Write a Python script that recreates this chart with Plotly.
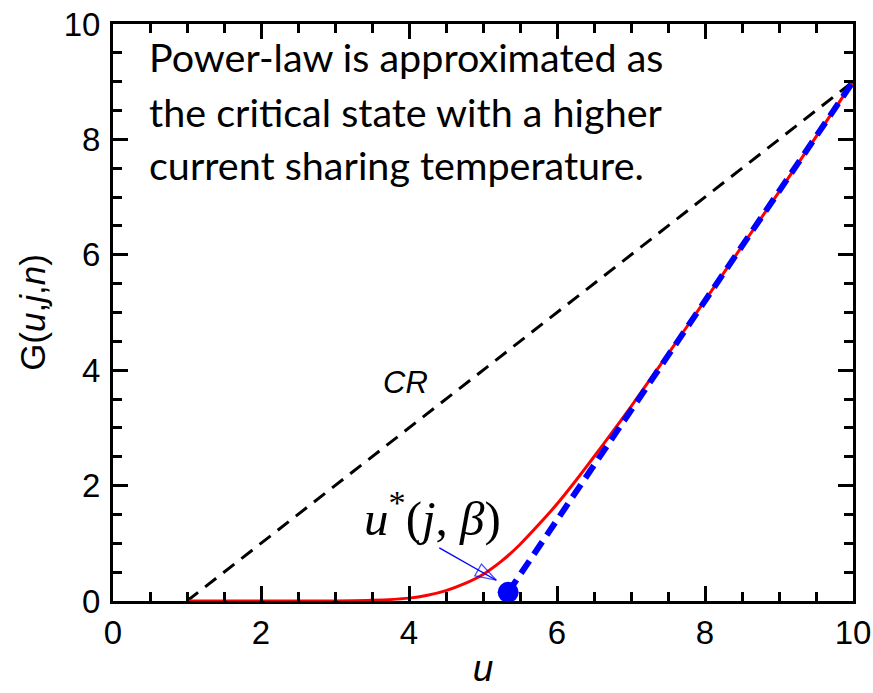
import plotly.graph_objects as go

# Critical-state (CR) reference line
cr_u = [1.0, 10.0]
cr_g = [0.0, 9.0]

# Power-law G(u, j, n)
pl_u = [1.0, 2.0, 3.0, 3.5, 4.0, 4.25, 4.5, 4.75, 5.0, 5.25, 5.5, 5.75,
        6.0, 6.25, 6.5, 6.75, 7.0, 7.5, 8.0, 9.0, 10.0]
pl_g = [0.0, 0.0, 0.002, 0.012, 0.05, 0.10, 0.18, 0.30, 0.46, 0.69, 0.98, 1.32,
        1.68, 2.08, 2.50, 2.93, 3.37, 4.28, 5.21, 7.09, 9.0]

# Equivalent critical state with shifted onset u*(j, beta)
eq_u = [5.34, 10.0]
eq_g = [0.15, 9.0]

# u* marker
ustar_u = [5.34]
ustar_g = [0.15]

# Pointer from the u* label to the onset
ptr_u = [4.41, 5.18]
ptr_g = [0.92, 0.36]

note_lines = ["Power-law is approximated as",
              "the critical state with a higher",
              "current sharing temperature."]
note_y = [9.43, 8.48, 7.56]

fig = go.Figure()

fig.add_trace(go.Scatter(x=cr_u, y=cr_g, mode="lines",
                         line=dict(color="black", width=3, dash="14px,9px"),
                         showlegend=False))
fig.add_trace(go.Scatter(x=pl_u, y=pl_g, mode="lines",
                         line=dict(color="#ff0000", width=3, shape="spline", smoothing=0.5),
                         showlegend=False))
fig.add_trace(go.Scatter(x=eq_u, y=eq_g, mode="lines",
                         line=dict(color="#0000ff", width=6, dash="15px,8px"),
                         showlegend=False))
fig.add_trace(go.Scatter(x=ustar_u, y=ustar_g, mode="markers",
                         marker=dict(color="#0000ff", size=21),
                         cliponaxis=False, showlegend=False))
fig.add_trace(go.Scatter(x=ptr_u, y=ptr_g, mode="lines+markers",
                         line=dict(color="#0000ff", width=1.3),
                         marker=dict(symbol=["circle", "arrow-open"], size=[0, 22],
                                     angleref="previous", color="#0000ff",
                                     line=dict(color="#0000ff", width=1.3)),
                         showlegend=False))

for txt, yy in zip(note_lines, note_y):
    fig.add_annotation(x=0.46, y=yy, xref="x", yref="y", text=txt, showarrow=False,
                       xanchor="left", yanchor="middle",
                       font=dict(family="Lato", size=39.5, color="black"))

fig.add_annotation(x=3.95, y=3.78, xref="x", yref="y", text="<i>CR</i>", showarrow=False,
                   font=dict(family="Liberation Sans, Arial", size=31, color="black"))
fig.add_annotation(x=4.32, y=1.50, xref="x", yref="y",
                   text="<i>u</i><sup>*</sup>(<i>j</i>,<i> β</i>)", showarrow=False,
                   font=dict(family="Liberation Serif", size=49, color="black"))

axis_common = dict(
    range=[0, 10], dtick=2, tick0=0,
    ticks="inside", ticklen=15, tickwidth=2.5, tickcolor="black",
    minor=dict(dtick=0.5, ticks="inside", ticklen=9, tickwidth=2.5, tickcolor="black"),
    showline=True, linewidth=3, linecolor="black", mirror="ticks",
    showgrid=False, zeroline=False, automargin=False,
    tickfont=dict(family="Liberation Sans, Arial", size=33, color="black"),
)

fig.update_xaxes(**axis_common,
                 title=dict(text="<i>u</i>", standoff=6,
                            font=dict(family="Liberation Sans, Arial", size=37, color="black")))
fig.update_yaxes(**axis_common, ticklabelstandoff=3,
                 title=dict(text="G(<i>u</i>,<i>j</i>,<i>n</i>)", standoff=8,
                            font=dict(family="Liberation Sans, Arial", size=35, color="black")))

fig.update_layout(
    width=873, height=693,
    margin=dict(l=113, r=20, t=24, b=92),
    plot_bgcolor="white", paper_bgcolor="white",
)

fig.write_html("out.html")
